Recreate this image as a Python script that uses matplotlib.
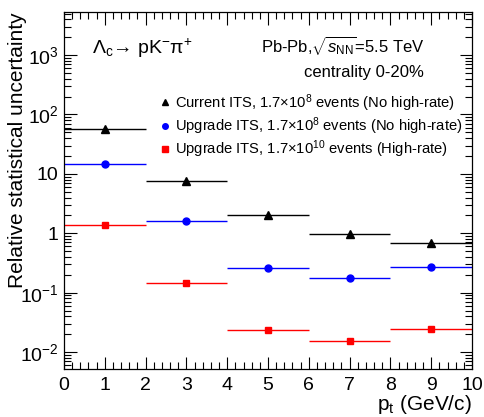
import matplotlib
matplotlib.use("Agg")
import matplotlib.pyplot as plt
from matplotlib.lines import Line2D
from matplotlib.ticker import FixedLocator, FuncFormatter, LogLocator, MultipleLocator, NullFormatter
import numpy as np

plt.rcParams['font.family'] = ['Liberation Sans', 'DejaVu Sans']
plt.rcParams['mathtext.fontset'] = 'custom'
plt.rcParams['mathtext.rm'] = 'Liberation Sans'
plt.rcParams['mathtext.it'] = 'Liberation Sans:italic'
plt.rcParams['mathtext.sf'] = 'Liberation Sans'

pt_centers = [1, 3, 5, 7, 9]
pt_halfwidth = [1, 1, 1, 1, 1]
current_its = [58, 7.6, 2.0, 0.98, 0.68]
upgrade_its = [14.5, 1.63, 0.26, 0.175, 0.27]
upgrade_hr = [1.36, 0.146, 0.0234, 0.0155, 0.0247]

labels = [r"Current ITS, 1.7$\times$10$^{8}$ events (No high-rate)",
          r"Upgrade ITS, 1.7$\times$10$^{8}$ events (No high-rate)",
          r"Upgrade ITS, 1.7$\times$10$^{10}$ events (High-rate)"]

W, H = 485, 417
fig = plt.figure(figsize=(W/100, H/100), dpi=100)
ax = fig.add_axes([64/W, 1-369/H, (472-64)/W, (369-12)/H])

series = [(current_its, 'black', '^', 5.5), (upgrade_its, 'blue', 'o', 5), (upgrade_hr, 'red', 's', 5)]
handles = []
for vals, col, mk, ms in series:
    ax.errorbar(pt_centers, vals, xerr=pt_halfwidth, fmt=mk, color=col, ms=ms,
                elinewidth=1.0, capsize=0, lw=0)
    handles.append(Line2D([], [], ls='none', marker=mk, color=col, ms=ms-1))

ax.set_yscale('log')
ax.set_xlim(0, 10)
ax.set_ylim(0.0052, 5300)

ax.xaxis.set_major_locator(MultipleLocator(1))
ax.xaxis.set_minor_locator(MultipleLocator(0.2))
ax.yaxis.set_major_locator(FixedLocator([1e-2, 1e-1, 1, 10, 1e2, 1e3]))
ax.yaxis.set_minor_locator(LogLocator(base=10, subs=np.arange(2, 10), numticks=20))
ax.yaxis.set_minor_formatter(NullFormatter())

def yfmt(v, pos):
    e = int(round(np.log10(v)))
    if e == 0:
        return "1"
    if e == 1:
        return "10"
    return r"10$^{%d}$" % e
ax.yaxis.set_major_formatter(FuncFormatter(yfmt))

ax.tick_params(which='both', direction='in', top=True, right=True, width=0.8)
ax.tick_params(which='major', length=9, labelsize=14)
ax.tick_params(which='minor', length=5)
ax.tick_params(axis='x', pad=6)
ax.tick_params(axis='y', pad=4)
for s in ax.spines.values():
    s.set_linewidth(0.9)

ax.set_xlabel(r"p$_{\rm t}$ (GeV/c)", fontsize=15, ha='right', va='top')
ax.xaxis.set_label_coords(1.0, -(393 - 369) / (369 - 12))
ax.set_ylabel("Relative statistical uncertainty", fontsize=15, ha='right', va='bottom')
ax.yaxis.set_label_coords((27 - 64) / (472 - 64), 1.0)

fig.text(92/W, 1-48/H, "Λ$_{\\rm c}$→ pK$^{-}$π$^{+}$", fontsize=14, va='center', ha='left')
fig.text(425/W, 1-45/H, r"Pb-Pb,$\sqrt{s_{\rm NN}}$=5.5 TeV", fontsize=12, ha='right', va='center')
fig.text(424/W, 1-72/H, "centrality 0-20%", fontsize=12, ha='right', va='center')

ax.legend(handles, labels, loc='upper left', bbox_to_anchor=(161/W, 1-92/H),
          bbox_transform=fig.transFigure, frameon=False, fontsize=10.6,
          handlelength=0.6, handletextpad=0.35, labelspacing=0.12, borderaxespad=0, borderpad=0)

fig.savefig("out.png", dpi=100)
